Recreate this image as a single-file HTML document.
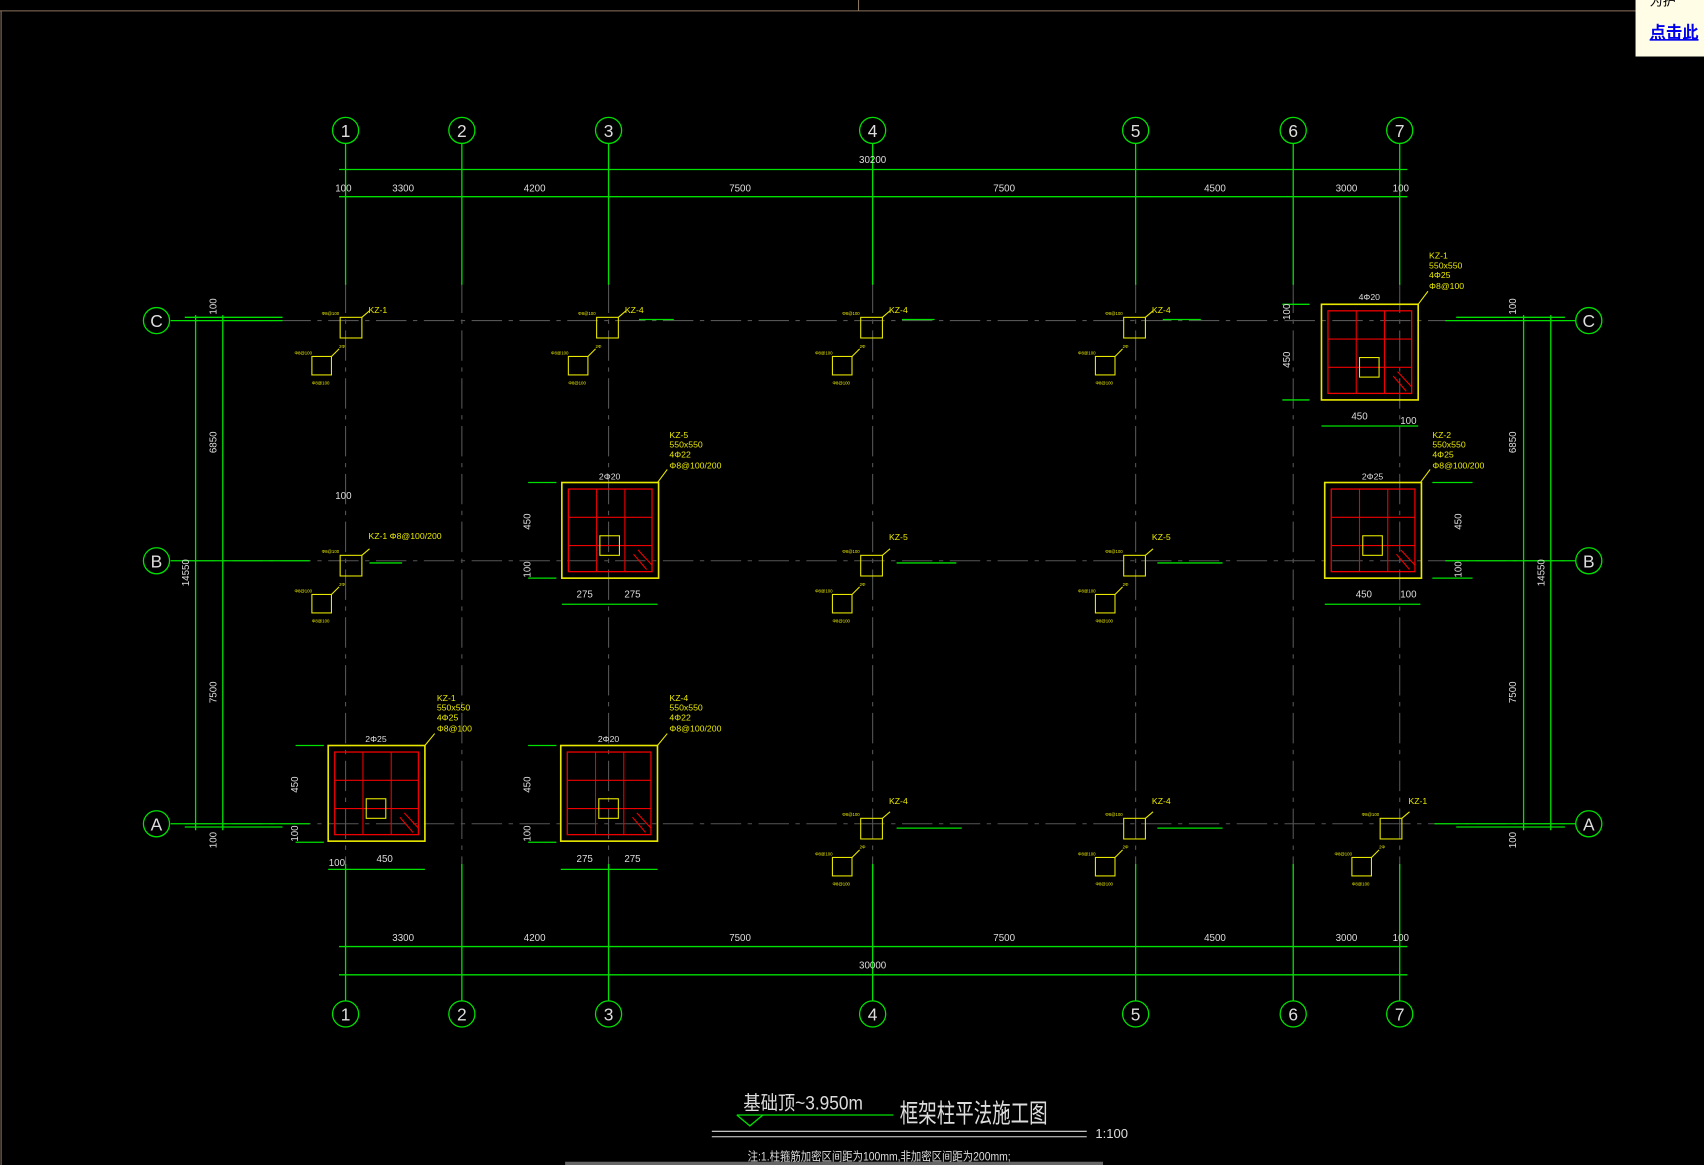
<!DOCTYPE html>
<html><head><meta charset="utf-8"><style>
html,body{margin:0;padding:0;background:#000;overflow:hidden}
svg{display:block}
text{font-family:"Liberation Sans","Noto Sans CJK SC",sans-serif}
</style></head><body>
<svg width="1704" height="1165" viewBox="0 0 1568 1072" preserveAspectRatio="none" xmlns="http://www.w3.org/2000/svg">
<rect width="1568" height="1072" fill="#000"/>
<line x1="0" y1="10" x2="1505" y2="10" stroke="#8a7560" stroke-width="1"/>
<line x1="790" y1="0" x2="790" y2="10" stroke="#8a7560"/>
<line x1="1" y1="10" x2="1" y2="1072" stroke="#8a7560"/>
<rect x="1505" y="0" width="63" height="52" fill="#fffde6"/>
<text x="1518" y="35" font-size="15" fill="#0000ee" font-weight="bold" text-decoration="underline">点击此</text>
<text x="1518" y="5" font-size="12" fill="#000">为护</text>

<g stroke="#555" stroke-width="1" stroke-dasharray="28,6,4,6">
<line x1="170" y1="295" x2="1440" y2="295"/>
<line x1="170" y1="516" x2="1440" y2="516"/>
<line x1="170" y1="758" x2="1440" y2="758"/>
<line x1="318" y1="260" x2="318" y2="800"/>
<line x1="425" y1="260" x2="425" y2="800"/>
<line x1="560" y1="260" x2="560" y2="800"/>
<line x1="803" y1="260" x2="803" y2="800"/>
<line x1="1045" y1="260" x2="1045" y2="800"/>
<line x1="1190" y1="260" x2="1190" y2="800"/>
<line x1="1288" y1="260" x2="1288" y2="800"/>
</g>

<g stroke="#00e000" stroke-width="1.2" fill="none">
<line x1="318" y1="132" x2="318" y2="262"/><line x1="318" y1="795" x2="318" y2="921"/>
<line x1="425" y1="132" x2="425" y2="262"/><line x1="425" y1="795" x2="425" y2="921"/>
<line x1="560" y1="132" x2="560" y2="262"/><line x1="560" y1="795" x2="560" y2="921"/>
<line x1="803" y1="132" x2="803" y2="262"/><line x1="803" y1="795" x2="803" y2="921"/>
<line x1="1045" y1="132" x2="1045" y2="262"/><line x1="1045" y1="795" x2="1045" y2="921"/>
<line x1="1190" y1="132" x2="1190" y2="262"/><line x1="1190" y1="795" x2="1190" y2="921"/>
<line x1="1288" y1="132" x2="1288" y2="262"/><line x1="1288" y1="795" x2="1288" y2="921"/>
<line x1="157" y1="295" x2="260" y2="295"/><line x1="1330" y1="295" x2="1450" y2="295"/>
<line x1="157" y1="516" x2="285" y2="516"/><line x1="1330" y1="516" x2="1450" y2="516"/>
<line x1="157" y1="758" x2="285" y2="758"/><line x1="1320" y1="758" x2="1450" y2="758"/>
<line x1="312" y1="156" x2="1295" y2="156"/>
<line x1="312" y1="181" x2="1295" y2="181"/>
<line x1="312" y1="871" x2="1295" y2="871"/>
<line x1="312" y1="897" x2="1295" y2="897"/>
<line x1="180" y1="290" x2="180" y2="764"/>
<line x1="205" y1="290" x2="205" y2="764"/>
<line x1="1402" y1="290" x2="1402" y2="764"/>
<line x1="1427" y1="290" x2="1427" y2="764"/>
<line x1="170" y1="761" x2="260" y2="761"/><line x1="1340" y1="761" x2="1440" y2="761"/>
<line x1="170" y1="292" x2="260" y2="292"/><line x1="1340" y1="292" x2="1440" y2="292"/>
<circle cx="318" cy="120" r="12"/><circle cx="425" cy="120" r="12"/><circle cx="560" cy="120" r="12"/><circle cx="803" cy="120" r="12"/><circle cx="1045" cy="120" r="12"/><circle cx="1190" cy="120" r="12"/><circle cx="1288" cy="120" r="12"/>
<circle cx="318" cy="933" r="12"/><circle cx="425" cy="933" r="12"/><circle cx="560" cy="933" r="12"/><circle cx="803" cy="933" r="12"/><circle cx="1045" cy="933" r="12"/><circle cx="1190" cy="933" r="12"/><circle cx="1288" cy="933" r="12"/>
<circle cx="144" cy="295" r="12"/><circle cx="144" cy="516" r="12"/><circle cx="144" cy="758" r="12"/>
<circle cx="1462" cy="295" r="12"/><circle cx="1462" cy="516" r="12"/><circle cx="1462" cy="758" r="12"/>
<line x1="1180" y1="280" x2="1205" y2="280"/><line x1="1180" y1="368" x2="1205" y2="368"/>
<line x1="1216" y1="392" x2="1305" y2="392"/>
<line x1="1318" y1="444" x2="1355" y2="444"/><line x1="1318" y1="532" x2="1355" y2="532"/>
<line x1="1219" y1="556" x2="1307" y2="556"/>
<line x1="486" y1="444" x2="512" y2="444"/><line x1="486" y1="532" x2="512" y2="532"/>
<line x1="517" y1="556" x2="605" y2="556"/>
<line x1="272" y1="686" x2="298" y2="686"/><line x1="272" y1="775" x2="298" y2="775"/>
<line x1="302" y1="800" x2="391" y2="800"/>
<line x1="486" y1="686" x2="512" y2="686"/><line x1="486" y1="775" x2="512" y2="775"/>
<line x1="516" y1="800" x2="605" y2="800"/>
<line x1="588" y1="294" x2="620" y2="294"/><line x1="830" y1="294" x2="860" y2="294"/><line x1="1070" y1="294" x2="1105" y2="294"/>
<line x1="340" y1="518" x2="370" y2="518"/><line x1="825" y1="518" x2="880" y2="518"/><line x1="1065" y1="518" x2="1125" y2="518"/>
<line x1="825" y1="762" x2="885" y2="762"/><line x1="1065" y1="762" x2="1125" y2="762"/>
<line x1="678" y1="1026" x2="822" y2="1026"/>
<polyline points="678,1026 690,1036 702,1026"/>
</g>

<g fill="#ddd" font-size="9" text-anchor="middle">
<text x="803" y="150">30200</text>
<text x="316" y="176">100</text><text x="371" y="176">3300</text><text x="492" y="176">4200</text><text x="681" y="176">7500</text><text x="924" y="176">7500</text><text x="1118" y="176">4500</text><text x="1239" y="176">3000</text><text x="1289" y="176">100</text>
<text x="371" y="866">3300</text><text x="492" y="866">4200</text><text x="681" y="866">7500</text><text x="924" y="866">7500</text><text x="1118" y="866">4500</text><text x="1239" y="866">3000</text><text x="1289" y="866">100</text>
<text x="803" y="891">30000</text>
<text x="1251" y="386">450</text><text x="1296" y="390">100</text>
<text x="1255" y="550">450</text><text x="1296" y="550">100</text>
<text x="538" y="550">275</text><text x="582" y="550">275</text>
<text x="538" y="793">275</text><text x="582" y="793">275</text>
<text x="354" y="793">450</text><text x="310" y="797">100</text>
<text x="316" y="459">100</text>
</g>
<g fill="#ddd" font-size="9" text-anchor="middle">
<text transform="translate(199,407) rotate(-90)">6850</text>
<text transform="translate(199,637) rotate(-90)">7500</text>
<text transform="translate(174,527) rotate(-90)">14550</text>
<text transform="translate(199,282) rotate(-90)">100</text>
<text transform="translate(199,773) rotate(-90)">100</text>
<text transform="translate(1395,407) rotate(-90)">6850</text>
<text transform="translate(1395,637) rotate(-90)">7500</text>
<text transform="translate(1421,527) rotate(-90)">14550</text>
<text transform="translate(1395,282) rotate(-90)">100</text>
<text transform="translate(1395,773) rotate(-90)">100</text>
<text transform="translate(1187,331) rotate(-90)">450</text>
<text transform="translate(1187,287) rotate(-90)">100</text>
<text transform="translate(1345,480) rotate(-90)">450</text>
<text transform="translate(1345,524) rotate(-90)">100</text>
<text transform="translate(488,480) rotate(-90)">450</text>
<text transform="translate(488,524) rotate(-90)">100</text>
<text transform="translate(274,722) rotate(-90)">450</text>
<text transform="translate(274,767) rotate(-90)">100</text>
<text transform="translate(488,722) rotate(-90)">450</text>
<text transform="translate(488,767) rotate(-90)">100</text>
</g>

<g fill="#ddd" font-size="16" text-anchor="middle">
<text x="318" y="126">1</text><text x="425" y="126">2</text><text x="560" y="126">3</text><text x="803" y="126">4</text><text x="1045" y="126">5</text><text x="1190" y="126">6</text><text x="1288" y="126">7</text>
<text x="318" y="939">1</text><text x="425" y="939">2</text><text x="560" y="939">3</text><text x="803" y="939">4</text><text x="1045" y="939">5</text><text x="1190" y="939">6</text><text x="1288" y="939">7</text>
<text x="144" y="301">C</text><text x="144" y="522">B</text><text x="144" y="764">A</text>
<text x="1462" y="301">C</text><text x="1462" y="522">B</text><text x="1462" y="764">A</text>
</g>

<defs>
<g id="big">
<rect x="0" y="0" width="89" height="88" fill="none" stroke="#e8e800" stroke-width="1.5"/>
<rect x="6" y="6" width="77" height="76" fill="none" stroke="#e00" stroke-width="1.2"/>
<g stroke="#e00" stroke-width="1"><line x1="6" y1="32" x2="83" y2="32"/><line x1="6" y1="58" x2="83" y2="58"/><line x1="32" y1="6" x2="32" y2="82"/><line x1="58" y1="6" x2="58" y2="82"/><line x1="70" y1="62" x2="83" y2="76"/><line x1="66" y1="66" x2="78" y2="80"/></g>
<rect x="35" y="49" width="18" height="18" fill="none" stroke="#e8e800"/>
</g>
<g id="sm">
<rect x="-3" y="-7" width="20" height="19" fill="none" stroke="#e8e800"/>
<rect x="-29" y="29" width="18" height="17" fill="none" stroke="#e8e800"/>
<line x1="17" y1="-7" x2="24" y2="-13" stroke="#e8e800"/>
<line x1="-11" y1="29" x2="-4" y2="22" stroke="#e8e800"/>
<g fill="#e8e800" font-size="4"><text x="-20" y="-9">Φ8@100</text><text x="-45" y="27">Φ8@100</text><text x="-4" y="21">2Φ</text><text x="-29" y="55">Φ8@100</text></g>
</g>
</defs>
<use href="#big" x="1216" y="280"/>
<use href="#big" x="517" y="444"/>
<use href="#big" x="1219" y="444"/>
<use href="#big" x="302" y="686"/>
<use href="#big" x="516" y="686"/>

<use href="#sm" x="316" y="299"/>
<use href="#sm" x="552" y="299"/>
<use href="#sm" x="795" y="299"/>
<use href="#sm" x="1037" y="299"/>
<use href="#sm" x="316" y="518"/>
<use href="#sm" x="795" y="518"/>
<use href="#sm" x="1037" y="518"/>
<use href="#sm" x="795" y="760"/>
<use href="#sm" x="1037" y="760"/>
<use href="#sm" x="1273" y="760"/>

<g fill="#e8e800" font-size="8">
<text x="339" y="288">KZ-1</text><text x="575" y="288">KZ-4</text><text x="818" y="288">KZ-4</text><text x="1060" y="288">KZ-4</text>
<text x="339" y="496">KZ-1 Φ8@100/200</text><text x="818" y="497">KZ-5</text><text x="1060" y="497">KZ-5</text>
<text x="818" y="740">KZ-4</text><text x="1060" y="740">KZ-4</text><text x="1296" y="740">KZ-1</text>
<text x="1315" y="238">KZ-1</text><text x="1315" y="247">550x550</text><text x="1315" y="256">4Φ25</text><text x="1315" y="266">Φ8@100</text>
<text x="616" y="403">KZ-5</text><text x="616" y="412">550x550</text><text x="616" y="421">4Φ22</text><text x="616" y="431">Φ8@100/200</text>
<text x="1318" y="403">KZ-2</text><text x="1318" y="412">550x550</text><text x="1318" y="421">4Φ25</text><text x="1318" y="431">Φ8@100/200</text>
<text x="402" y="645">KZ-1</text><text x="402" y="654">550x550</text><text x="402" y="663">4Φ25</text><text x="402" y="673">Φ8@100</text>
<text x="616" y="645">KZ-4</text><text x="616" y="654">550x550</text><text x="616" y="663">4Φ22</text><text x="616" y="673">Φ8@100/200</text>
</g>
<g fill="#ddd" font-size="8" text-anchor="middle">
<text x="1260" y="276">4Φ20</text><text x="561" y="441">2Φ20</text><text x="1263" y="441">2Φ25</text><text x="346" y="683">2Φ25</text><text x="560" y="683">2Φ20</text>
</g>
<g stroke="#e8e800"><line x1="1305" y1="280" x2="1314" y2="268"/><line x1="605" y1="444" x2="614" y2="432"/><line x1="1307" y1="444" x2="1316" y2="432"/><line x1="391" y1="686" x2="400" y2="675"/><line x1="605" y1="686" x2="614" y2="675"/></g>

<g fill="#ddd">
<text x="684" y="1021" font-size="18" textLength="110" lengthAdjust="spacingAndGlyphs">基础顶~3.950m</text>
<text x="828" y="1033" font-size="24" textLength="136" lengthAdjust="spacingAndGlyphs">框架柱平法施工图</text>
<text x="1008" y="1047" font-size="12">1:100</text>
<text x="688" y="1068" font-size="11" textLength="242" lengthAdjust="spacingAndGlyphs">注:1.柱箍筋加密区间距为100mm,非加密区间距为200mm;</text>
</g>
<line x1="655" y1="1041" x2="1000" y2="1041" stroke="#ddd"/>
<line x1="655" y1="1046" x2="1000" y2="1046" stroke="#ddd"/>
<rect x="520" y="1069" width="495" height="3" fill="#666"/>
</svg>
</body></html>
